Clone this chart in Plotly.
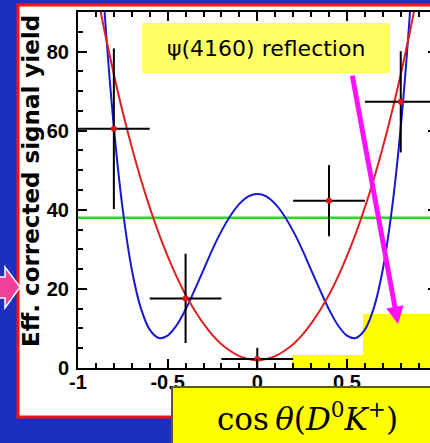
import plotly.graph_objects as go

# Efficiency-corrected yields in bins of cos(theta)
bin_center = [-0.8, -0.4, 0.0, 0.4, 0.8]
bin_halfwidth = [0.2, 0.2, 0.2, 0.2, 0.2]
signal_yield = [60.5, 17.6, 2.3, 42.3, 67.3]
yield_err = [20.3, 11.3, 2.8, 9.0, 12.8]

# Angular hypotheses evaluated on a grid in cos(theta)
curve_x = [-0.95, -0.90, -0.85, -0.80, -0.75, -0.70, -0.65, -0.60, -0.55, -0.50,
           -0.45, -0.40, -0.35, -0.30, -0.25, -0.20, -0.15, -0.10, -0.05, 0.00,
           0.05, 0.10, 0.15, 0.20, 0.25, 0.30, 0.35, 0.40, 0.45, 0.50,
           0.55, 0.60, 0.65, 0.70, 0.75, 0.80, 0.85, 0.90, 0.95]
blue_curve = [170.9, 125.3, 89.0, 60.9, 39.9, 24.9, 15.2, 9.7, 7.6, 8.2,
              10.8, 14.8, 19.7, 24.8, 30.0, 34.6, 38.5, 41.5, 43.4, 44.0,
              43.4, 41.5, 38.5, 34.6, 30.0, 24.8, 19.7, 14.8, 10.8, 8.2,
              7.6, 9.7, 15.2, 24.9, 39.9, 60.9, 89.0, 125.3, 170.9]
red_curve = [108.5, 96.1, 84.7, 74.2, 64.6, 55.8, 47.8, 40.6, 34.1, 28.3,
             23.1, 18.5, 14.6, 11.2, 8.3, 6.0, 4.3, 3.0, 2.3, 2.0,
             2.3, 3.0, 4.3, 6.0, 8.3, 11.2, 14.6, 18.5, 23.1, 28.3,
             34.1, 40.6, 47.8, 55.8, 64.6, 74.2, 84.7, 96.1, 108.5]
flat_x = [-1.0, 1.0]
flat_level = [38.0, 38.0]

x_ticks = [-1, -0.5, 0, 0.5]
x_tick_text = ["-1", "-0.5", "0", "0.5"]
y_ticks = [0, 20, 40, 60, 80]
y_tick_text = ["0", "20", "40", "60", "80"]

W, H = 430, 443
L, R, T, B = 78, 430, 12, 368


def px(x):
    return (x - L) / (R - L)


def py(y):
    return (B - y) / (B - T)


fig = go.Figure()

fig.add_trace(go.Scatter(x=flat_x, y=flat_level, mode="lines",
                         line=dict(color="#22e022", width=2.5), hoverinfo="skip"))
fig.add_trace(go.Scatter(x=curve_x, y=blue_curve, mode="lines",
                         line=dict(color="#1818d0", width=2, shape="spline", smoothing=1.0)))
fig.add_trace(go.Scatter(x=curve_x, y=red_curve, mode="lines",
                         line=dict(color="#e02020", width=2, shape="spline", smoothing=1.0)))
fig.add_trace(go.Scatter(
    x=bin_center, y=signal_yield, mode="markers",
    marker=dict(color="#ee1111", size=6),
    error_x=dict(type="data", array=bin_halfwidth, width=0, thickness=2, color="black"),
    error_y=dict(type="data", array=yield_err, width=0, thickness=2, color="black"),
))
# invisible trace so the right-hand axis gets drawn
fig.add_trace(go.Scatter(x=[0], y=[0], yaxis="y2", mode="markers",
                         marker=dict(opacity=0), hoverinfo="skip"))

tick_font = dict(family="Liberation Sans, Arial", size=20, color="black", weight="bold")

fig.update_layout(
    width=W, height=H,
    margin=dict(l=L, r=W - R, t=T, b=H - B, pad=0, autoexpand=False),
    paper_bgcolor="#1a30c0",
    plot_bgcolor="white",
    showlegend=False,
    xaxis=dict(range=[-1, -1 + (R - L) / 179.3], showgrid=False, zeroline=False,
               showline=True, linecolor="black", linewidth=2, mirror="ticks",
               ticks="inside", ticklen=9, tickwidth=2, tickcolor="black",
               tickvals=x_ticks, ticktext=x_tick_text, tickfont=tick_font,
               ticklabelstandoff=-5,
               minor=dict(dtick=0.1, tick0=-1, ticks="inside", ticklen=5,
                          tickwidth=1.5, tickcolor="black")),
    yaxis=dict(range=[0, 90], showgrid=False, zeroline=False,
               showline=True, linecolor="black", linewidth=2,
               ticks="inside", ticklen=9, tickwidth=2, tickcolor="black",
               tickvals=y_ticks, ticktext=y_tick_text, tickfont=tick_font,
               ticklabelstandoff=3,
               minor=dict(dtick=5, tick0=0, ticks="inside", ticklen=5,
                          tickwidth=1.5, tickcolor="black")),
    yaxis2=dict(range=[0, 90], overlaying="y", side="right", showgrid=False,
                zeroline=False, showline=False, ticks="inside", ticklen=2,
                tickwidth=2, tickcolor="black", tickvals=y_ticks,
                showticklabels=False),
)

shapes = []
# white slide panel with red frame
shapes.append(dict(type="rect", xref="paper", yref="paper", layer="below",
                   x0=px(18), x1=px(460), y0=py(417), y1=py(5),
                   fillcolor="white", line=dict(color="#ff1010", width=3)))
# yellow masks along the lower axis
shapes.append(dict(type="rect", xref="paper", yref="paper", layer="below",
                   x0=px(292), x1=px(363), y0=py(368), y1=py(355),
                   fillcolor="#ffff00", line=dict(width=0)))
shapes.append(dict(type="rect", xref="paper", yref="paper", layer="below",
                   x0=px(363), x1=px(460), y0=py(368), y1=py(314),
                   fillcolor="#ffff00", line=dict(width=0)))
# label boxes
shapes.append(dict(type="rect", xref="paper", yref="paper", layer="above",
                   x0=px(142), x1=px(390), y0=py(73), y1=py(23),
                   fillcolor="#ffff66", line=dict(width=0)))
shapes.append(dict(type="rect", xref="paper", yref="paper", layer="above",
                   x0=px(172), x1=px(460), y0=py(460), y1=py(387),
                   fillcolor="#ffff00", line=dict(color="#5a5a28", width=2)))
# pink pointer on the left margin
arrow_pts = [(-5, 277), (5, 277), (5, 267), (20, 287), (5, 308), (5, 298), (-5, 298)]
path = "M " + " L ".join(f"{px(a):.5f},{py(b):.5f}" for a, b in arrow_pts) + " Z"
shapes.append(dict(type="path", xref="paper", yref="paper", layer="above", path=path,
                   fillcolor="#f0409a", line=dict(color="white", width=1.5)))
fig.update_layout(shapes=shapes)

fig.add_annotation(xref="paper", yref="paper", x=px(31), y=py(181),
                   text="Eff. corrected signal yield", textangle=-90, showarrow=False,
                   font=dict(family="DejaVu Sans", size=23, color="black", weight="bold"),
                   xanchor="center", yanchor="middle")
fig.add_annotation(xref="paper", yref="paper", x=px(266), y=py(49),
                   text="ψ(4160) reflection", showarrow=False,
                   font=dict(family="DejaVu Sans", size=22, color="black"),
                   xanchor="center", yanchor="middle")
fig.add_annotation(xref="paper", yref="paper", x=px(307), y=py(417),
                   text="cos\u2009<i>θ</i>(<i>D</i><sup>0</sup><i>K</i><sup>+</sup>)",
                   showarrow=False,
                   font=dict(family="DejaVu Serif", size=31, color="black"),
                   xanchor="center", yanchor="middle")
# magenta arrow from the label down to the masked region
fig.add_annotation(xref="x", yref="y", x=0.785, y=11.1, ax=-46, ay=-250,
                   axref="pixel", ayref="pixel", text="", showarrow=True,
                   arrowhead=2, arrowsize=0.7, arrowwidth=5, arrowcolor="#ff10ff",
                   standoff=0)

fig.write_html("out.html")
